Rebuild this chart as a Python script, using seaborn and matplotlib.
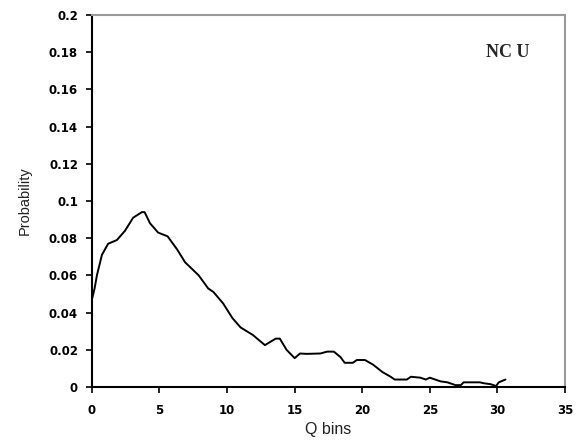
import matplotlib
matplotlib.use("Agg")
import matplotlib.pyplot as plt
import seaborn as sns
import pandas as pd

# Probability distribution over Q bins
q_bins = [0.0, 0.2, 0.37, 0.74, 1.2, 1.85, 2.45, 3.05, 3.7, 3.9, 4.3, 4.9, 5.6,
          6.3, 6.9, 7.9, 8.6, 9.0, 9.7, 10.4, 11.0, 11.9, 12.8, 13.6, 13.9,
          14.4, 15.0, 15.4, 15.9, 16.9, 17.4, 17.9, 18.4, 18.7, 19.3, 19.6,
          20.2, 20.8, 21.5, 22.1, 22.4, 23.3, 23.6, 24.3, 24.7, 25.0, 25.8,
          26.3, 26.9, 27.3, 27.5, 28.7, 29.0, 29.5, 29.9, 30.1, 30.6]
probability = [0.047, 0.053, 0.060, 0.071, 0.077, 0.079, 0.084, 0.091, 0.094,
               0.094, 0.088, 0.083, 0.081, 0.074, 0.067, 0.060, 0.053, 0.051,
               0.045, 0.037, 0.032, 0.028, 0.0225, 0.026, 0.026, 0.020, 0.0155,
               0.018, 0.0178, 0.018, 0.019, 0.019, 0.016, 0.013, 0.013, 0.0145,
               0.0145, 0.012, 0.008, 0.0055, 0.004, 0.004, 0.0055, 0.005, 0.004,
               0.005, 0.003, 0.0025, 0.001, 0.001, 0.0025, 0.0025, 0.002,
               0.0015, 0.0005, 0.0025, 0.004]
x_ticks = [0, 5, 10, 15, 20, 25, 30, 35]
y_ticks = [0, 0.02, 0.04, 0.06, 0.08, 0.1, 0.12, 0.14, 0.16, 0.18, 0.2]
y_tick_labels = ["0", "0.02", "0.04", "0.06", "0.08", "0.1", "0.12", "0.14",
                 "0.16", "0.18", "0.2"]

df = pd.DataFrame({"Q bins": q_bins, "Probability": probability})

sns.set_theme(style="white")
plt.rcParams["font.family"] = ["DejaVu Sans"]

fig = plt.figure(figsize=(5.78, 4.4), dpi=100)
ax = fig.add_axes([0.159, 0.1205, 0.8185, 0.8455])

sns.lineplot(data=df, x="Q bins", y="Probability", ax=ax, color="black",
             linewidth=1.4, estimator=None, sort=False)

ax.set_xlim(0, 35)
ax.set_ylim(0, 0.2)
ax.set_xticks(x_ticks)
ax.set_xticklabels([str(t) for t in x_ticks], fontsize=8.5, fontweight="bold",
                   color="black")
ax.set_yticks(y_ticks)
ax.set_yticklabels(y_tick_labels, fontsize=8.5, fontweight="bold",
                   color="black")
ax.set_xlabel("Q bins", fontsize=11.5, labelpad=4, color="#222222",
              family=["Liberation Sans", "DejaVu Sans"])
ax.set_ylabel("Probability", fontsize=10.5, labelpad=12, color="#222222",
              family=["Liberation Sans", "DejaVu Sans"])

ax.tick_params(axis="x", direction="out", length=4, width=1.2,
               color="black", pad=8, bottom=True)
ax.tick_params(axis="y", direction="out", length=4, width=1.2,
               color="black", pad=6, left=True)

for side in ("left", "bottom"):
    ax.spines[side].set_color("black")
    ax.spines[side].set_linewidth(1.5)
for side in ("top", "right"):
    ax.spines[side].set_color("#9a9a9a")
    ax.spines[side].set_linewidth(1.5)

ax.text(30.8, 0.180, "NC U", family=["Liberation Serif", "DejaVu Serif"],
        fontsize=13, fontweight="bold", ha="center", va="center")

fig.savefig("out.png", dpi=100)
